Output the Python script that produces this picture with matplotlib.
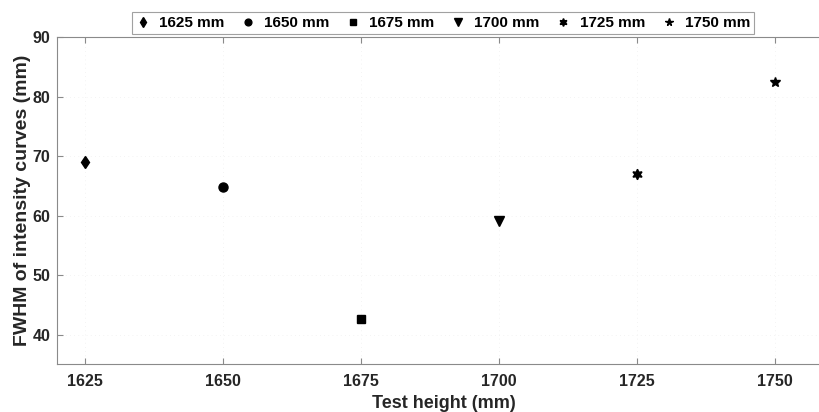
import matplotlib.pyplot as plt
import numpy as np

plt.rcParams['font.family'] = ['Liberation Sans', 'DejaVu Sans']
plt.rcParams['font.weight'] = 'bold'

# data
heights = [1625, 1650, 1675, 1700, 1725, 1750]
fwhm = [69.1, 64.8, 42.6, 59.1, 67.0, 82.4]
labels = ["1625 mm", "1650 mm", "1675 mm", "1700 mm", "1725 mm", "1750 mm"]
markers = ['d', 'o', 's', 'v', (6, 1, 0), '*']
sizes = [6.5, 6.5, 5.5, 7.5, 7.5, 7.5]

fig = plt.figure(figsize=(8.2, 4.12), dpi=100)
ax = fig.add_axes([0.0699, 0.1158, 1.012 - 0.0699, 0.9095 - 0.1158])

for i in range(len(heights)):
    ax.plot(heights[i], fwhm[i], linestyle='none', marker=markers[i],
            markersize=sizes[i], color='black', label=labels[i])

ax.set_xlim(1620, 1760)
ax.set_ylim(35, 90)
ax.set_xticks(heights)
ax.set_yticks([40, 50, 60, 70, 80, 90])

# faint MATLAB-like grid
ax.grid(True, color='#f0f0f0', linewidth=0.6, linestyle=(0, (1, 4)))
ax.set_axisbelow(True)

for s in ['left', 'bottom', 'top']:
    ax.spines[s].set_color('#8a8a8a')
    ax.spines[s].set_linewidth(0.8)
ax.spines['right'].set_visible(False)
ax.tick_params(direction='in', top=True, right=False, length=4,
               color='#8a8a8a', labelsize=11.5, labelcolor='#262626')
ax.tick_params(axis='x', pad=7)
ax.tick_params(axis='y', pad=5)

ax.set_xlabel('Test height (mm)', fontsize=13, fontweight='bold', color='#262626', labelpad=4)
ax.set_ylabel('FWHM of intensity curves (mm)', fontsize=14, fontweight='bold', color='#262626', labelpad=1)

leg = ax.legend(ncol=6, loc='center', bbox_to_anchor=(0.540, 0.944),
                bbox_transform=fig.transFigure, fontsize=11, frameon=True,
                fancybox=False, edgecolor='#8a8a8a', handlelength=1.0,
                handletextpad=0.55, columnspacing=1.05, borderpad=0.25,
                markerscale=0.75)
leg.get_frame().set_linewidth(0.8)

fig.savefig('out.png', dpi=100)
